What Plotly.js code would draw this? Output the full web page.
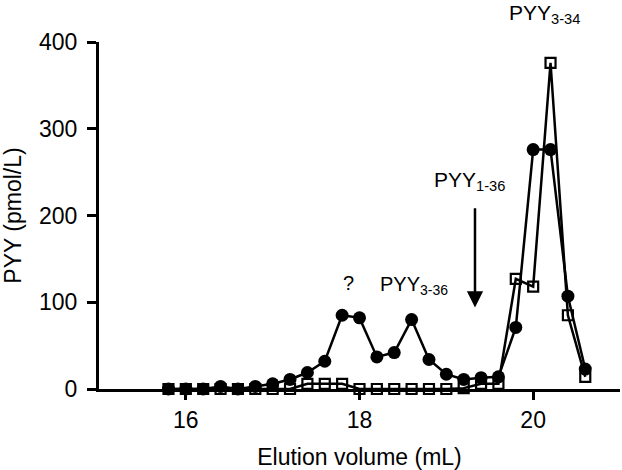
<!DOCTYPE html>
<html>
<head>
<meta charset="utf-8">
<script src="https://cdn.plot.ly/plotly-3.0.1.min.js"></script>
<style>html,body{margin:0;padding:0;background:#fff;}#chart{width:622px;height:470px;}</style>
</head>
<body>
<div id="chart"></div>
<script>
// Elution volume (mL)
const volume = [15.8, 16.0, 16.2, 16.4, 16.6, 16.8, 17.0, 17.2, 17.4, 17.6, 17.8, 18.0, 18.2, 18.4, 18.6, 18.8, 19.0, 19.2, 19.4, 19.6, 19.8, 20.0, 20.2, 20.4, 20.6];
// PYY (pmol/L), filled circles
const pyyCircles = [0, 0, 0, 3, 0, 3, 6, 11, 19, 32, 85, 82, 37, 42, 80, 34, 17, 11, 13, 14, 71, 276, 276, 107, 23];
// PYY (pmol/L), open squares
const pyySquares = [0, 0, 0, 0, 0, 0, 0, 0, 6, 6, 6, 0, 0, 0, 0, 0, 0, 1, 6, 6, 127, 118, 376, 85, 14];

const xTicks = [16, 18, 20];
const yTicks = [0, 100, 200, 300, 400];

const FONT = 'Arial, "Liberation Sans", sans-serif';

const traces = [
  {
    x: volume, y: pyyCircles, type: 'scatter', mode: 'lines+markers',
    line: {color: '#000', width: 2.5},
    marker: {symbol: 'circle', size: 13, color: '#000'},
    cliponaxis: false, showlegend: false
  },
  {
    x: volume, y: pyySquares, type: 'scatter', mode: 'lines+markers',
    line: {color: '#000', width: 2.5},
    marker: {symbol: 'square-open', size: 10, color: '#000', line: {width: 2.2, color: '#000'}},
    cliponaxis: false, showlegend: false
  }
];

const layout = {
  width: 622, height: 470,
  margin: {l: 99, r: 2, t: 42, b: 81},
  paper_bgcolor: '#fff', plot_bgcolor: '#fff',
  font: {family: FONT, color: '#000'},
  showlegend: false,
  xaxis: {
    range: [15, 21], tickvals: xTicks, ticktext: xTicks.map(String),
    showgrid: false, zeroline: false, showline: true, linecolor: '#000', linewidth: 3,
    ticks: 'outside', ticklen: 8, tickwidth: 3, tickcolor: '#000',
    tickfont: {size: 23, family: FONT, color: '#000'},
    title: {text: 'Elution volume (mL)', font: {size: 23, family: FONT, color: '#000'}, standoff: 18}
  },
  yaxis: {
    range: [0, 400], tickvals: yTicks, ticktext: yTicks.map(String),
    showgrid: false, zeroline: false, showline: true, linecolor: '#000', linewidth: 3,
    ticks: 'outside', ticklen: 9, tickwidth: 3, tickcolor: '#000',
    ticklabelstandoff: 5,
    tickfont: {size: 23, family: FONT, color: '#000'},
    title: {text: 'PYY (pmol/L)', font: {size: 23, family: FONT, color: '#000'}, standoff: 14}
  },
  annotations: [
    {x: 17.87, y: 122, xref: 'x', yref: 'y', text: '?', showarrow: false,
     font: {size: 20, family: FONT, color: '#000'}},
    {x: 18.21, y: 119, xref: 'x', yref: 'y', xanchor: 'left', text: 'PYY<sub>3-36</sub>', showarrow: false,
     font: {size: 20, family: FONT, color: '#000'}},
    {x: 18.83, y: 240, xref: 'x', yref: 'y', xanchor: 'left', text: 'PYY<sub>1-36</sub>', showarrow: false,
     font: {size: 21, family: FONT, color: '#000'}},
    {x: 19.70, y: 1.082, xref: 'x', yref: 'paper', xanchor: 'left', yanchor: 'middle', text: 'PYY<sub>3-34</sub>', showarrow: false,
     font: {size: 21, family: FONT, color: '#000'}},
    {x: 19.33, y: 94, xref: 'x', yref: 'y', ax: 19.33, ay: 210, axref: 'x', ayref: 'y',
     text: '', showarrow: true, arrowhead: 2, arrowsize: 1.3, arrowwidth: 2.5, arrowcolor: '#000'}
  ]
};

Plotly.newPlot('chart', traces, layout, {staticPlot: true, displayModeBar: false});
</script>
</body>
</html>
